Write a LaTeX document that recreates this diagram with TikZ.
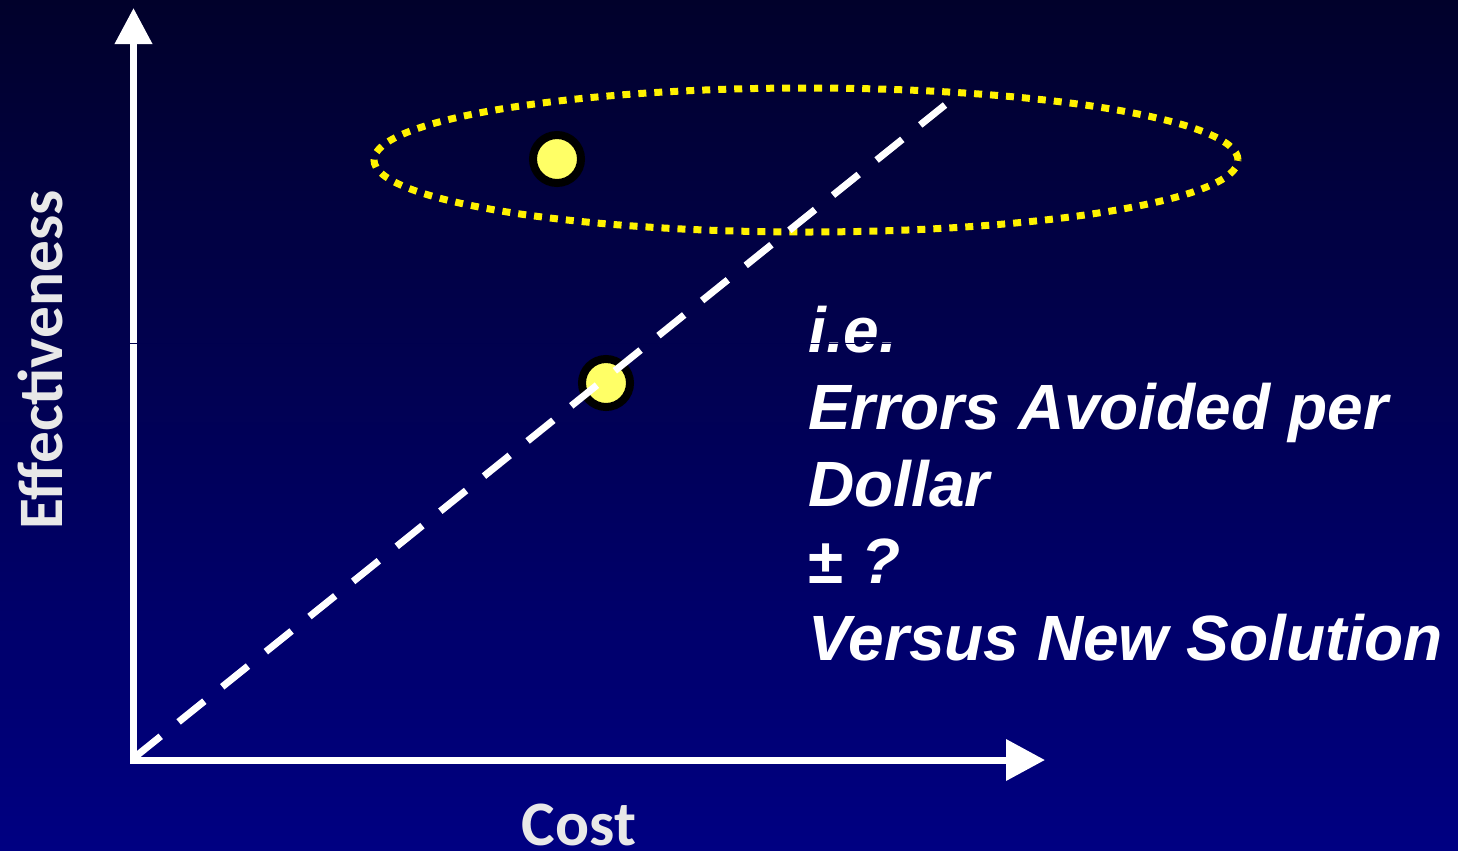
\documentclass[tikz,border=0pt]{standalone}
\usepackage{fontspec}
\usetikzlibrary{arrows.meta,shapes.geometric}
\newfontfamily\calfont{Carlito}
\newfontfamily\arialfont{Liberation Sans}
\definecolor{bgtop}{HTML}{01012B}
\definecolor{bgbot}{HTML}{000082}
\definecolor{dotyel}{HTML}{FFFF66}
\definecolor{ringcol}{HTML}{000000}
\definecolor{axlabel}{HTML}{E8E8E8}
\definecolor{tickcol}{HTML}{00004E}
\begin{document}
\begin{tikzpicture}[x=0.75pt,y=-0.75pt,
  axisline/.style={draw=white, line width=5.25pt, line join=miter},
  dotnode/.style={circle, fill=dotyel, draw=ringcol, line width=6pt, minimum size=36pt, inner sep=0pt},
  ringellipse/.style={ellipse, draw=yellow, line width=5.25pt, dash pattern=on 6pt off 6pt, minimum width=648pt, minimum height=108pt, inner sep=0pt},
  trendline/.style={draw=white, line width=5.25pt, dash pattern=on 24.75pt off 17.25pt},
  axlab/.style={text=axlabel, font=\calfont\bfseries\fontsize{47.5}{56}\selectfont, inner sep=0pt},
  rtext/.style={text=white, font=\arialfont\bfseries\itshape\fontsize{48}{57.6}\selectfont, inner sep=0pt, anchor=base west}
]
\shade[top color=bgtop, bottom color=bgbot] (0,0) rectangle (1458,850);
\useasboundingbox (0,0) rectangle (1458,850);

% axes
\coordinate (xtip) at (1045,760);
\coordinate (ytip) at (133.5,8);
\draw[axisline, {Triangle[length=29.25pt,width=30pt]}-{Triangle[length=27pt,width=27pt]}] (xtip) -| (ytip);

% labels
\node[axlab, rotate=90, anchor=base] (ylab) at (62,360) {Effectiveness};
\node[axlab, anchor=base] (xlab) at (579,845) {Cost};

% ellipse and dots
\node[ringellipse] (ring) at (806,160) {};
\node[dotnode] (d1) at (557,159) {};
\node[dotnode] (d2) at (606,383) {};

% dashed trend line
\coordinate (l0) at (135,757);
\coordinate (l1) at (945,105);
\draw[trendline] (l0) -- (l1);

% right text
\node[rtext] (t1) at (808,352) {i.e.};
\node[rtext] (t2) at (808,429) {Errors Avoided per};
\node[rtext] (t3) at (808,506) {Dollar};
\node[rtext] (t4) at (808,583) {{\upshape ±} ?};
\node[rtext] (t5) at (808,660) {Versus New Solution};

% thin artifact line
\coordinate (k0) at (130,343);
\coordinate (k1) at (895,343);
\draw[tickcol, line width=0.75pt] (k0) -- (k1);
\end{tikzpicture}
\end{document}
